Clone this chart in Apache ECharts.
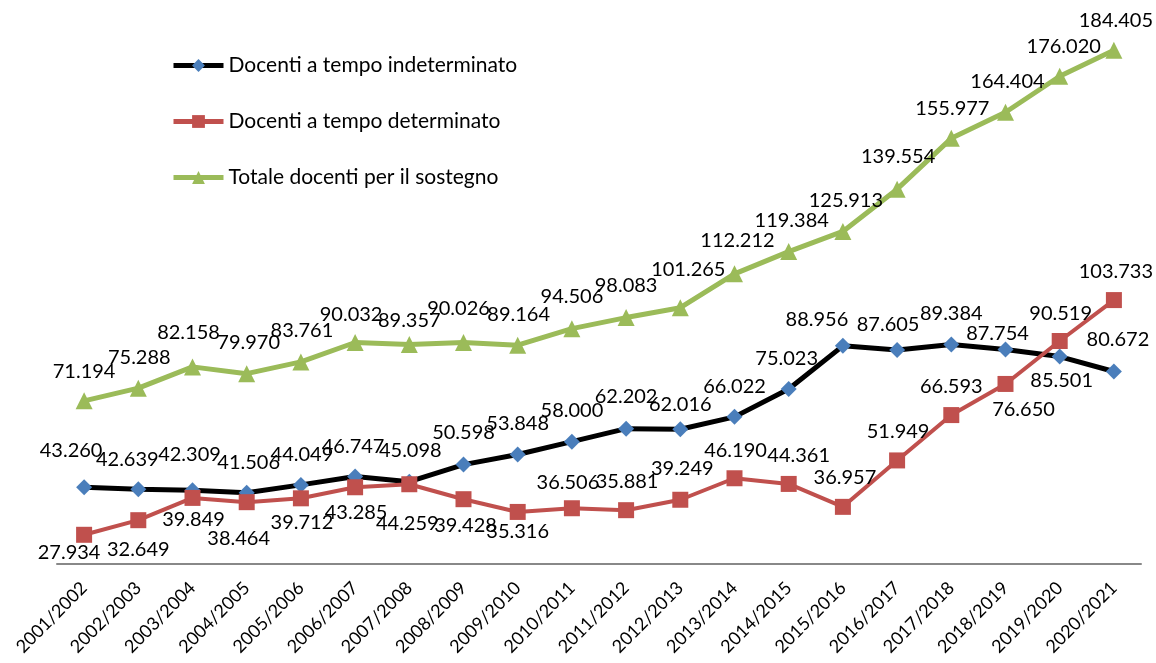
<!DOCTYPE html>
<html>
<head>
<meta charset="utf-8">
<script src="https://cdn.jsdelivr.net/npm/echarts@6/dist/echarts.min.js"></script>
<style>
html,body{margin:0;padding:0;background:#fff;}
#chart{width:1156px;height:663px;}
</style>
</head>
<body>
<div id="chart"></div>
<script>
// ---- data ----
var categories = ["2001/2002","2002/2003","2003/2004","2004/2005","2005/2006","2006/2007","2007/2008","2008/2009","2009/2010","2010/2011","2011/2012","2012/2013","2013/2014","2014/2015","2015/2016","2016/2017","2017/2018","2018/2019","2019/2020","2020/2021"];
var seriesNames = ["Docenti a tempo indeterminato","Docenti a tempo determinato","Totale docenti per il sostegno"];
var indeterminato = [43260,42639,42309,41506,44049,46747,45098,50598,53848,58000,62202,62016,66022,75023,88956,87605,89384,87754,85501,80672];
var determinato = [27934,32649,39849,38464,39712,43285,44259,39428,35316,36506,35881,39249,46190,44361,36957,51949,66593,76650,90519,103733];
var totale = [71194,75288,82158,79970,83761,90032,89357,90026,89164,94506,98083,101265,112212,119384,125913,139554,155977,164404,176020,184405];

// ---- label placement (style only) ----
var offInd = [[-13,-37],[-11,-30],[-3,-36],[2,-30],[1,-30],[-2,-30],[1,-31],[0,-32],[0,-31],[0,-31],[0,-32],[0,-25],[0,-30],[-2,-30],[-26,-26],[-9,-25],[0,-31],[-8,-16],[2,24],[4,-32]];
var offDet = [[-15,18],[0,29],[1,22],[-8,36],[1,24],[1,25],[-2,39],[2,26],[0,20],[-4,-26],[1,-29],[2,-31],[1,-28],[10,-28],[2,-29],[1,-29],[0,-29],[18,26],[1,-27],[2,-29]];
var offTot = [[0,-29],[1,-31],[-4,-34],[2,-31],[1,-31],[-4,-28],[0,-24],[-5,-34],[1,-31],[0,-32],[0,-32],[8,-38],[3,-33],[3,-31],[3,-31],[1,-33],[1,-30],[2,-31],[4,-30],[2,-30]];

function fmt(v){ return (v/1000).toFixed(3); }
function build(vals, offs){
  return vals.map(function(v,i){
    return {value:v, label:{offset:offs[i]}};
  });
}
var labelStyle = {
  show:true, position:'inside', color:'#000',
  fontFamily:'Lato', fontSize:20,
  formatter:function(p){ return fmt(p.value); }
};

var chart = echarts.init(document.getElementById('chart'), null, {renderer:'canvas'});
chart.setOption({
  animation:false,
  backgroundColor:'#fff',
  grid:{left:57, right:15, top:2, bottom:99, containLabel:false},
  legend:{
    show:true, orient:'vertical', left:166, top:50,
    itemWidth:50, itemHeight:16, itemGap:35,
    lineStyle:{width:5},
    textStyle:{fontFamily:'Lato', fontSize:21, lineHeight:21, color:'#000'},
    data:seriesNames
  },
  xAxis:{
    type:'category', data:categories, boundaryGap:true,
    axisLine:{show:true, lineStyle:{color:'#888888', width:2}},
    axisTick:{show:false},
    axisLabel:{rotate:45, margin:21, color:'#000', fontFamily:'Lato', fontSize:18, interval:0}
  },
  yAxis:{
    type:'value', min:18500, max:200000, show:false,
    splitLine:{show:false}
  },
  series:[
    {
      name:seriesNames[0], type:'line', data:build(indeterminato, offInd),
      symbol:'diamond', symbolSize:16,
      lineStyle:{color:'#000000', width:5},
      itemStyle:{color:'#4a7ebb', borderWidth:0},
      label:labelStyle, z:2
    },
    {
      name:seriesNames[1], type:'line', data:build(determinato, offDet),
      symbol:'rect', symbolSize:16,
      lineStyle:{color:'#c0504d', width:4},
      itemStyle:{color:'#c0504d', borderWidth:0},
      label:labelStyle, z:3
    },
    {
      name:seriesNames[2], type:'line', data:build(totale, offTot),
      symbol:'triangle', symbolSize:17,
      lineStyle:{color:'#9bbb59', width:5},
      itemStyle:{color:'#9bbb59', borderWidth:0},
      label:labelStyle, z:4
    }
  ]
});
</script>
</body>
</html>
